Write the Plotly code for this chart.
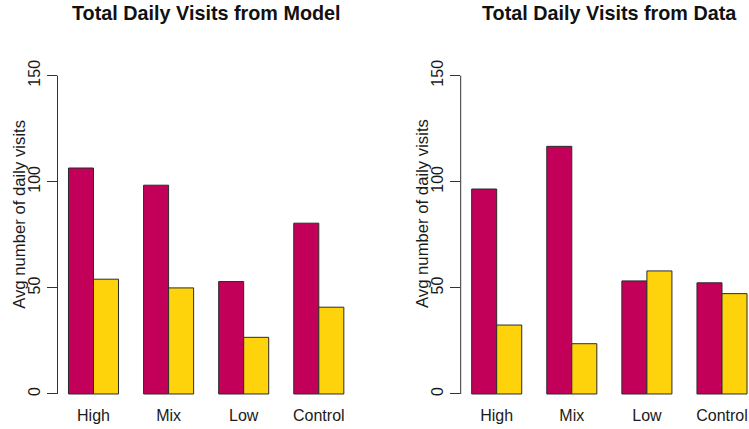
import plotly.graph_objects as go

# Categories and bar values
categories = ["High", "Mix", "Low", "Control"]
model_first = [106.5, 98.4, 53.0, 80.5]
model_second = [54.1, 50.0, 26.7, 40.9]
data_first = [96.6, 116.7, 53.3, 52.4]
data_second = [32.5, 23.7, 58.0, 47.3]
y_ticks = [0, 50, 100, 150]

W, H = 749, 429
RED = "#C2005A"
YELLOW = "#FFD30C"
EDGE = "#2b2b2b"
FONT = "Liberation Sans, Arial, Helvetica, sans-serif"

# pixel geometry of the two panels
unit_px = 75.1          # width of one category slot
y0_px, y150_px = 394.0, 75.7
ypp = (y0_px - y150_px) / 150.0
y_range = [-6, 156]
dom_bot_px = y0_px - (y_range[0]) * ypp
dom_top_px = y0_px - (y_range[1]) * ypp
y_domain = [(H - dom_bot_px) / H, (H - dom_top_px) / H]

panels = [
    dict(axis_px=57.5, first_center_px=93.5, right_px=355.5),
    dict(axis_px=460.7, first_center_px=496.7, right_px=749.0),
]

fig = go.Figure()

series = [(model_first, model_second), (data_first, data_second)]
for i, (a, b) in enumerate(series):
    xa = "x" if i == 0 else "x2"
    ya = "y" if i == 0 else "y2"
    for vals, col, nm in ((a, RED, "first"), (b, YELLOW, "second")):
        fig.add_trace(go.Bar(
            x=categories, y=vals, name=nm, xaxis=xa, yaxis=ya,
            marker=dict(color=col, line=dict(color=EDGE, width=1)),
            offsetgroup=nm, showlegend=False,
        ))

layout = dict(
    width=W, height=H, autosize=False,
    margin=dict(l=0, r=0, t=0, b=0),
    paper_bgcolor="white", plot_bgcolor="white",
    barmode="group", bargap=1/3, bargroupgap=0,
    font=dict(family=FONT, size=16, color="#1a1a1a"),
    showlegend=False,
)

shapes = []
annotations = []
titles = ["Total Daily Visits from Model", "Total Daily Visits from Data"]
for i, p in enumerate(panels):
    sfx = "" if i == 0 else str(i + 1)
    left = -(p["first_center_px"] - p["axis_px"]) / unit_px
    right = (p["right_px"] - p["first_center_px"]) / unit_px
    layout["xaxis" + sfx] = dict(
        domain=[p["axis_px"] / W, p["right_px"] / W],
        range=[left, right], type="category",
        showgrid=False, zeroline=False, showline=False, ticks="",
        tickfont=dict(size=16, color="#1a1a1a"),
        anchor="y" + sfx, automargin=False, ticklabelstandoff=-3,
    )
    layout["yaxis" + sfx] = dict(
        domain=y_domain, range=y_range,
        tickvals=y_ticks, ticktext=[str(v) for v in y_ticks],
        tickangle=-90, ticks="outside", ticklen=10, tickwidth=1,
        tickcolor="#333", showgrid=False, zeroline=False, showline=False,
        tickfont=dict(size=16, color="#1a1a1a"),
        anchor="x" + sfx, automargin=False,
    )
    shapes.append(dict(
        type="line", xref=("x" + sfx + " domain"), yref="y" + sfx,
        x0=0, x1=0, y0=0, y1=150, line=dict(color="#333", width=1),
    ))
    # panel heading
    center_px = (p["axis_px"] + (p["right_px"] if i == 0 else 758.9)) / 2
    annotations.append(dict(
        text="<b>" + titles[i] + "</b>", xref="paper", yref="paper",
        x=center_px / W, y=(H - 13.5) / H, xanchor="center", yanchor="middle",
        showarrow=False, font=dict(size=19.8, color="#111"),
    ))
    # y-axis label
    annotations.append(dict(
        text="Avg number of daily visits", xref="paper", yref="paper",
        x=(p["axis_px"] - 38.7) / W, y=(H - 214) / H,
        xanchor="center", yanchor="middle", textangle=-90,
        showarrow=False, font=dict(size=16.7, color="#1a1a1a"),
    ))

layout["shapes"] = shapes
layout["annotations"] = annotations
fig.update_layout(**layout)

fig.write_html("out.html")
